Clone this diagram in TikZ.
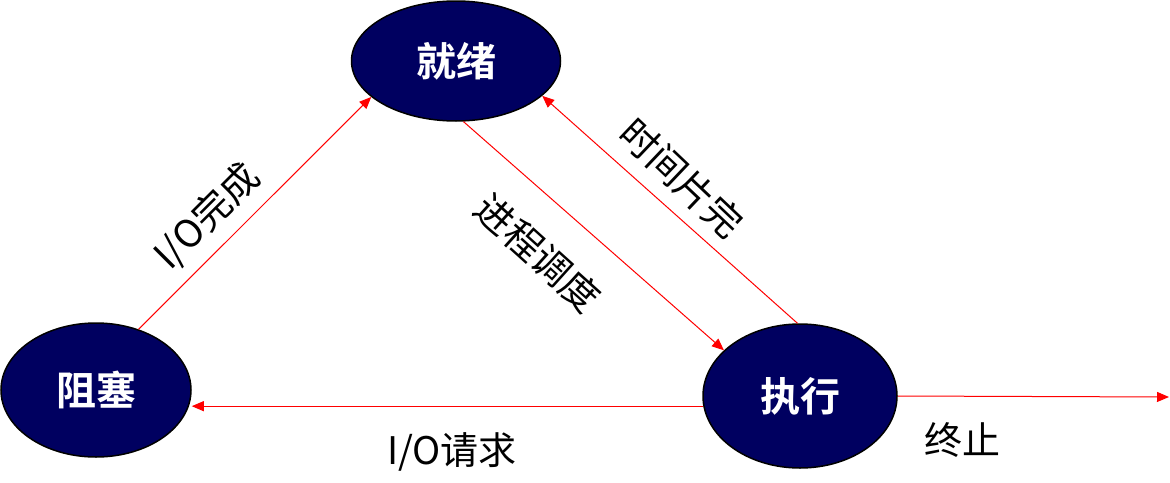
\documentclass[tikz,border=0pt]{standalone}
\usepackage{fontspec}
\setmainfont{Noto Sans CJK SC}[BoldFont={Noto Sans CJK SC Bold}]
\usetikzlibrary{shapes.geometric,arrows.meta}
\definecolor{navy}{RGB}{0,0,96}
\definecolor{arrred}{RGB}{255,0,0}
\tikzset{
  state/.style={ellipse, draw=black, line width=1.5pt, fill=navy, text=white,
    inner sep=0pt, font=\fontsize{40}{42}\selectfont\bfseries},
  arr/.style={draw=arrred, line width=1pt, -{Triangle[length=12pt,width=10pt]}},
  lbl/.style={inner sep=0pt, font=\fontsize{38}{40}\selectfont}
}
\begin{document}
\begin{tikzpicture}[x=1pt,y=-1pt]
\useasboundingbox (0,0) rectangle (1170,482);
\node[state, minimum width=209pt, minimum height=120pt] (jx) at (456,61) {就绪};
\node[state, minimum width=190pt, minimum height=134pt] (zs) at (96,390) {阻塞};
\node[state, minimum width=194pt, minimum height=144pt] (zx) at (800,396) {执行};
\coordinate (end) at (1169,397);
\draw[arr] (zs.55) -- (jx.203);
\draw[arr] (jx.-83) -- (zx.149);
\draw[arr] (zx.92) -- (jx.-22.6);
\draw[arr] (zx.186) -- (zx.186 -| zs.east);
\draw[arr] (zx.east) -- (end);
\node[lbl, rotate=45] (l1) at (207,217) {I/O完成};
\node[lbl, rotate=-42] (l2) at (538,253) {进程调度};
\node[lbl, rotate=-43.5] (l3) at (682,178) {时间片完};
\node[lbl] (l4) at (452,452) {I/O请求};
\node[lbl] (l5) at (962,440) {终止};
\end{tikzpicture}
\end{document}
